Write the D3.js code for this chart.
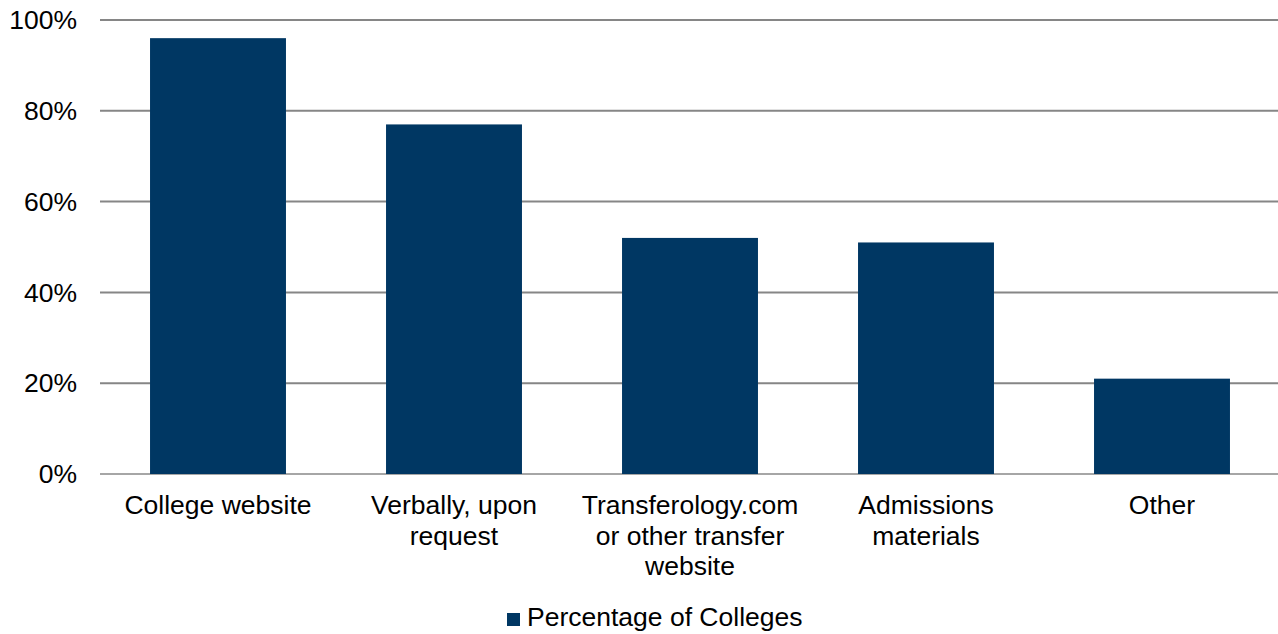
<!DOCTYPE html>
<html>
<head>
<meta charset="utf-8">
<script src="https://cdn.jsdelivr.net/npm/d3@7"></script>
<style>
  body { margin: 0; background: #fff; }
  text { font-family: "Liberation Sans", Arial, sans-serif; fill: #000; }
</style>
</head>
<body>
<script>
var categories = [
        ['College website'],
        ['Verbally, upon', 'request'],
        ['Transferology.com', 'or other transfer', 'website'],
        ['Admissions', 'materials'],
        ['Other']
    ],
    values = [96, 77, 52, 51, 21],
    yTicks = [0, 20, 40, 60, 80, 100],
    seriesName = 'Percentage of Colleges';

var width = 1278,
    height = 634,
    margin = { top: 20, right: -2, bottom: 160, left: 100 },
    fontSize = '26.5px';

var x = d3.scaleBand()
        .domain(d3.range(categories.length))
        .range([margin.left, width - margin.right])
        .paddingInner(0.424)
        .paddingOuter(0.212);

var y = d3.scaleLinear()
        .domain([0, 100])
        .range([height - margin.bottom, margin.top]);

var svg = d3.select('body')
        .append('svg')
         .attr('width', width)
         .attr('height', height);

// gridlines
svg.append('g')
    .selectAll('line')
    .data(yTicks)
    .enter().append('line')
     .attr('x1', margin.left)
     .attr('x2', width)
     .attr('y1', function(d) { return y(d); })
     .attr('y2', function(d) { return y(d); })
     .attr('stroke', function(d) { return d === 0 ? '#a6a6a6' : '#868686'; })
     .attr('stroke-width', 2);

// y tick labels
svg.append('g')
    .selectAll('text')
    .data(yTicks)
    .enter().append('text')
     .attr('x', 77)
     .attr('y', function(d) { return y(d); })
     .attr('dy', '0.35em')
     .attr('text-anchor', 'end')
     .style('font-size', fontSize)
     .text(function(d) { return d + '%'; });

// bars
svg.append('g')
    .selectAll('rect')
    .data(values)
    .enter().append('rect')
     .attr('x', function(d, i) { return x(i); })
     .attr('width', x.bandwidth())
     .attr('y', function(d) { return y(d); })
     .attr('height', function(d) { return y(0) - y(d); })
     .attr('fill', '#003763');

// category labels
var labels = svg.append('g')
    .selectAll('text')
    .data(categories)
    .enter().append('text')
     .attr('text-anchor', 'middle')
     .attr('x', function(d, i) { return x(i) + x.bandwidth() / 2; })
     .attr('y', 514)
     .style('font-size', fontSize);

labels.selectAll('tspan')
    .data(function(d) { return d; })
    .enter().append('tspan')
     .attr('x', function() { return d3.select(this.parentNode).attr('x'); })
     .attr('dy', function(d, i) { return i === 0 ? 0 : 30.5; })
     .text(function(d) { return d; });

// legend
var legend = svg.append('g');
legend.append('rect')
    .attr('x', 507)
    .attr('y', 613)
    .attr('width', 13)
    .attr('height', 13)
    .attr('fill', '#003763');
legend.append('text')
    .attr('x', 527)
    .attr('y', 626)
    .style('font-size', fontSize)
    .text(seriesName);
</script>
</body>
</html>
